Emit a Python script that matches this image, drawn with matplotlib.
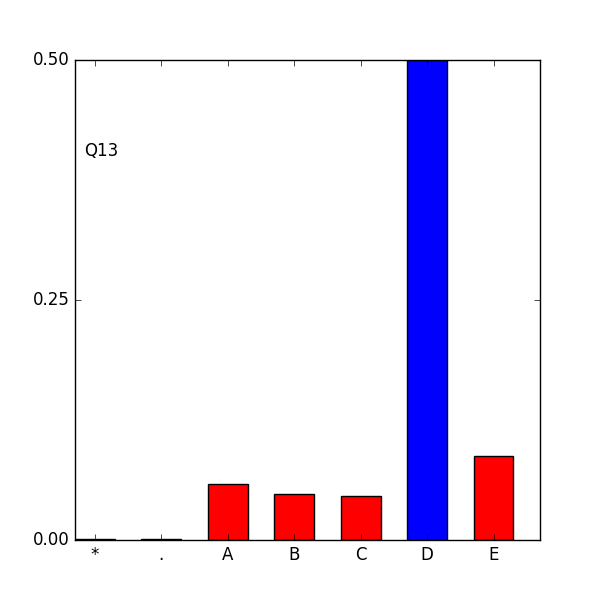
import matplotlib
matplotlib.use("Agg")
import matplotlib.pyplot as plt

plt.style.use("classic")

# answer shares for question 13
labels = ["*", ".", "A", "B", "C", "D", "E"]
values = [0.001, 0.001, 0.058, 0.048, 0.046, 0.5, 0.088]
colors = ["red", "red", "red", "red", "red", "blue", "red"]

fig = plt.figure(figsize=(6, 6), dpi=100)
ax = fig.add_subplot(111)

x = list(range(len(labels)))
ax.bar(x, values, width=0.6, align="edge", color=colors, edgecolor="black")
ax.set_xticks([i + 0.3 for i in x])
ax.set_xticklabels(labels)
ax.set_xlim(0, len(labels))
ax.set_ylim(0, 0.5)
ax.set_yticks([0, 0.25, 0.5])
ax.set_yticklabels(["0.00", "0.25", "0.50"])
ax.text(0.13, 0.4, "Q13", fontsize=12)

fig.savefig("out.png", dpi=100)
